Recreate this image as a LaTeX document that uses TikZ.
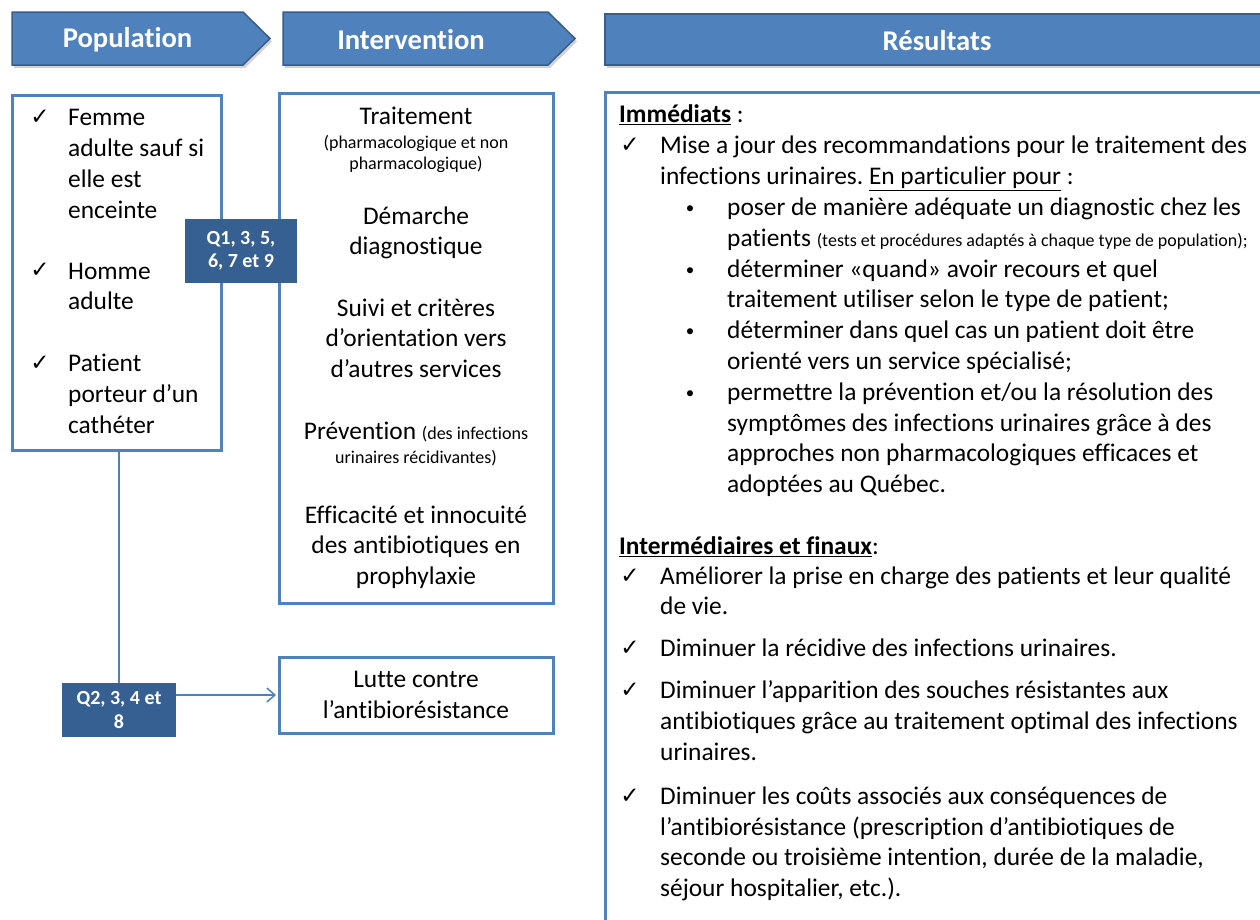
\documentclass[tikz,border=0pt]{standalone}
\usepackage{fontspec}
\setmainfont{Carlito}[Ligatures=NoCommon]
\newfontfamily\chkfont{DejaVu Sans}
\usetikzlibrary{arrows.meta}
\definecolor{bleuband}{HTML}{4F81BD}
\definecolor{bordband}{HTML}{385D8A}
\definecolor{cadrebleu}{HTML}{4F81BD}
\definecolor{qbleu}{HTML}{376092}
\tikzset{
  bandeau/.style={fill=bleuband, draw=bordband, line width=1.5pt},
  ombre/.style={fill=black!35, opacity=0.5},
  titre/.style={text=white, font=\bfseries\fontsize{28.6}{32}\selectfont},
  cadre/.style={draw=cadrebleu, line width=3pt, fill=white},
  question/.style={fill=qbleu, text=white, align=center, font=\bfseries\fontsize{20}{23.5}\selectfont},
  texte/.style={inner sep=0pt, anchor=north west, align=left},
  centre/.style={inner sep=0pt, anchor=north, align=center},
  coche/.style={inner sep=0pt, anchor=base, font=\chkfont\fontsize{23}{26}\selectfont},
  puce/.style={inner sep=0pt, anchor=base, font=\fontsize{17}{20}\selectfont},
  lien/.style={draw=cadrebleu, line width=1.5pt},
}
\frenchspacing
\begin{document}
\begin{tikzpicture}[x=1pt, y=-1pt, font=\fontsize{25.4}{30.8}\selectfont]
  \clip (0,0) rectangle (1260,919);
  \fill[white] (0,0) rectangle (1260,919);
  % bandeaux
  \fill[ombre] (14,15) -- (245,15) -- (272,41.5) -- (245,68) -- (14,68) -- cycle;
  \fill[ombre] (285,15) -- (550,15) -- (577,41.5) -- (550,68) -- (285,68) -- cycle;
  \fill[ombre] (607,17) rectangle (1300,68);
  \draw[bandeau] (12,12) -- (243,12) -- (270,38.5) -- (243,65) -- (12,65) -- cycle;
  \draw[bandeau] (283,12) -- (548,12) -- (575,38.5) -- (548,65) -- (283,65) -- cycle;
  \draw[bandeau] (605,14) rectangle (1300,65);
  \node[titre] (population) at (127.5,39.5) {Population};
  \node[titre] (intervention) at (411,40) {Intervention};
  \node[titre] (resultats) at (937,40.5) {Résultats};
  % cadres
  \node[cadre, minimum width=209, minimum height=355] (pop) at (116.5,272.5) {};
  \node[cadre, minimum width=274, minimum height=510] (interv) at (416,348) {};
  \node[cadre, minimum width=274, minimum height=76, align=center] (lutte) at (416,695) {Lutte contre\\l’antibiorésistance};
  \draw[cadre] (605,92) rectangle (1300,960);
  % questions
  \draw[lien] (119,450) -- (119,690);
  \node[question, minimum width=112, minimum height=64] (q1) at (241,251) {Q1, 3, 5,\\6, 7 et 9};
  \node[question, minimum width=114, minimum height=54] (q2) at (119,710) {Q2, 3, 4 et\\8};
  \draw[lien, -{Straight Barb[length=8pt, width=14pt]}, shorten >=1.5pt] (q2.east |- lutte.west) -- (lutte.west);
  % population
  \node[texte] (popliste) at (68,103.9) {\strut Femme\\adulte sauf si\\elle est\\enceinte\\[30.2pt]Homme\\adulte\\[31.2pt]Patient\\porteur d’un\\cathéter};
  % intervention
  \node[centre] (trait) at (416,102.4) {\strut Traitement};
  \node[centre, font=\fontsize{18}{21}\selectfont] (traitprec) at (416,133.3) {\strut(pharmacologique et non\\pharmacologique)};
  \node[centre] (demarche) at (416,202.4) {\strut Démarche\\diagnostique};
  \node[centre] (suivi) at (416,294.4) {\strut Suivi et critères\\d’orientation vers\\d’autres services};
  \node[centre] (prev) at (416,417.4) {\strut Prévention {\fontsize{18}{21}\selectfont (des infections}\\[-6pt]{\fontsize{18}{21}\selectfont urinaires récidivantes)}};
  \node[centre] (effic) at (416,501.4) {\strut Efficacité et innocuité\\des antibiotiques en\\prophylaxie};
  % resultats
  \node[texte] (immediats) at (619,100.4) {\strut\underline{\textbf{Immédiats}} :};
  \node[texte] (maj) at (660,131.9) {\strut Mise a jour des recommandations pour le traitement des\\infections urinaires. \underline{En particulier pour} :};
  \node[texte] (buts) at (727,193.8) {\strut poser de manière adéquate un diagnostic chez les\\patients {\fontsize{18}{20}\selectfont (tests et procédures adaptés à chaque type de population);}\\déterminer «quand» avoir recours et quel\\traitement utiliser selon le type de patient;\\déterminer dans quel cas un patient doit être\\orienté vers un service spécialisé;\\permettre la prévention et/ou la résolution des\\symptômes des infections urinaires grâce à des\\approches non pharmacologiques efficaces et\\adoptées au Québec.};
  \node[texte] (interm) at (619,532.4) {\strut\underline{\textbf{Intermédiaires et finaux}}:};
  \node[texte] (finaux) at (660,562.4) {\strut Améliorer la prise en charge des patients et leur qualité\\de vie.\\[11.2pt]Diminuer la récidive des infections urinaires.\\[11.2pt]Diminuer l’apparition des souches résistantes aux\\antibiotiques grâce au traitement optimal des infections\\urinaires.\\[13pt]Diminuer les coûts associés aux conséquences de\\l’antibiorésistance (prescription d’antibiotiques de\\seconde ou troisième intention, durée de la maladie,\\séjour hospitalier, etc.).};
  \foreach \y [count=\i] in {213.4,275,336.6,398.2}
    \node[puce] (puce\i) at (690,\y) {•};
  \foreach \x/\y [count=\i] in {40/124.5,40/277.9,40/370.7,630/152.5,630/583,630/655.8,630/697.8,630/803.2}
    \node[coche] (coche\i) at (\x,\y) {✓};
\end{tikzpicture}
\end{document}
